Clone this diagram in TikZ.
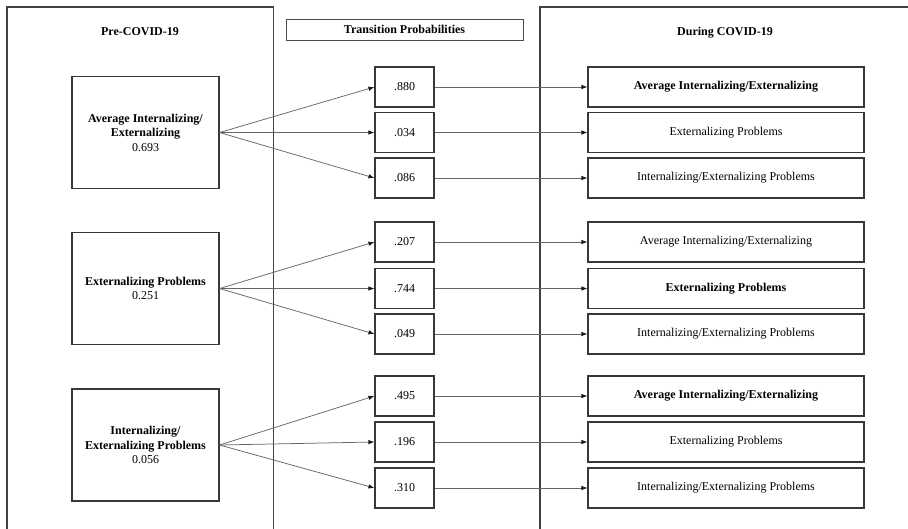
\documentclass[tikz,border=0pt]{standalone}
\usepackage{fontspec}
\setmainfont{Liberation Serif}
\usetikzlibrary{arrows.meta}
\tikzset{
  frame/.style={draw=black!75, line width=1.2pt},
  srcbox/.style={draw=black!78, line width=1.1pt, minimum width=147pt, minimum height=112pt, align=center, inner sep=1pt, font=\fontsize{12}{14.5}\selectfont},
  probbox/.style={draw=black!78, line width=1.1pt, minimum width=59pt, minimum height=40pt, font=\fontsize{12}{14}\selectfont},
  tgtbox/.style={draw=black!78, line width=1.1pt, minimum width=276pt, minimum height=40pt, font=\fontsize{12}{14}\selectfont},
  titlebox/.style={draw=black!70, line width=0.9pt, minimum width=237pt, minimum height=21pt, font=\fontsize{12}{14}\selectfont\bfseries},
  heading/.style={font=\fontsize{12}{14}\selectfont\bfseries},
  arr/.style={draw=black!60, line width=0.75pt, -{Latex[length=6pt,width=4.5pt,fill=black!90,color=black!90]}}
}
\begin{document}
\begin{tikzpicture}[x=1pt,y=-1pt]
\useasboundingbox (0,0) rectangle (908,528);
% frames
\draw[frame] (7,532) -- (7,7) -- (273.5,7) -- (273.5,532);
\draw[frame] (540,532) -- (540,7) -- (912,7);
% headings
\node[heading] (pre) at (140,32) {Pre-COVID-19};
\node[titlebox] (tp) at (404.5,29.5) {Transition Probabilities};
\node[heading] (dur) at (725,32.5) {During COVID-19};
% sources
\node[srcbox] (s1) at (145.5,132.5) {\textbf{Average Internalizing/}\\\textbf{Externalizing}\\0.693};
\node[srcbox] (s2) at (145.5,288.5) {\textbf{Externalizing Problems}\\0.251};
\node[srcbox] (s3) at (145.5,445) {\textbf{Internalizing/}\\\textbf{Externalizing Problems}\\0.056};
% probabilities
\node[probbox] (p11) at (404.5,87) {.880};
\node[probbox] (p12) at (404.5,132.5) {.034};
\node[probbox] (p13) at (404.5,178) {.086};
\node[probbox] (p21) at (404.5,242) {.207};
\node[probbox] (p22) at (404.5,288.5) {.744};
\node[probbox] (p23) at (404.5,334) {.049};
\node[probbox] (p31) at (404.5,396) {.495};
\node[probbox] (p32) at (404.5,442) {.196};
\node[probbox] (p33) at (404.5,488) {.310};
% targets
\node[tgtbox] (t11) at (726,87) {\textbf{Average Internalizing/Externalizing}};
\node[tgtbox] (t12) at (726,132.5) {Externalizing Problems};
\node[tgtbox] (t13) at (726,178) {Internalizing/Externalizing Problems};
\node[tgtbox] (t21) at (726,242) {Average Internalizing/Externalizing};
\node[tgtbox] (t22) at (726,288.5) {\textbf{Externalizing Problems}};
\node[tgtbox] (t23) at (726,334) {Internalizing/Externalizing Problems};
\node[tgtbox] (t31) at (726,396) {\textbf{Average Internalizing/Externalizing}};
\node[tgtbox] (t32) at (726,442) {Externalizing Problems};
\node[tgtbox] (t33) at (726,488) {Internalizing/Externalizing Problems};
% arrows
\foreach \s/\g in {s1/1,s2/2,s3/3}{
  \foreach \k in {1,2,3}{
    \draw[arr] (\s.east) -- (p\g\k.west);
    \draw[arr] (p\g\k.east) -- (t\g\k.west);
  }
}
\end{tikzpicture}
\end{document}
